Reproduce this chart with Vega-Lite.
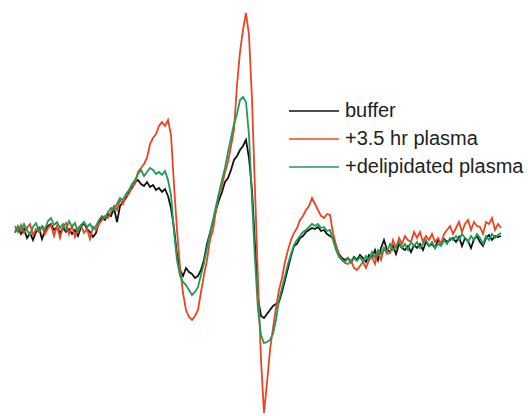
{
"$schema":"https://vega.github.io/schema/vega-lite/v6.json",
"width":528,"height":416,"autosize":{"type":"none"},"padding":0,
"background":"white",
"config":{"view":{"stroke":null}},
"data":{"values":[
{"s":"buffer","x":15,"y":-2},{"s":"buffer","x":18,"y":3},{"s":"buffer","x":21,"y":-4},{"s":"buffer","x":24,"y":1},{"s":"buffer","x":27,"y":-8},{"s":"buffer","x":30,"y":-3},{"s":"buffer","x":33,"y":-10},{"s":"buffer","x":36,"y":-2},{"s":"buffer","x":39,"y":2},{"s":"buffer","x":42,"y":-9},{"s":"buffer","x":45,"y":-1},{"s":"buffer","x":48,"y":4},{"s":"buffer","x":51,"y":6},{"s":"buffer","x":54,"y":0},{"s":"buffer","x":57,"y":3},{"s":"buffer","x":60,"y":-3},{"s":"buffer","x":63,"y":2},{"s":"buffer","x":66,"y":-2},{"s":"buffer","x":69,"y":1},{"s":"buffer","x":72,"y":-4},{"s":"buffer","x":75,"y":0},{"s":"buffer","x":78,"y":-6},{"s":"buffer","x":81,"y":3},{"s":"buffer","x":84,"y":7},{"s":"buffer","x":87,"y":1},{"s":"buffer","x":90,"y":-2},{"s":"buffer","x":93,"y":-7},{"s":"buffer","x":96,"y":-3},{"s":"buffer","x":99,"y":8},{"s":"buffer","x":102,"y":12},{"s":"buffer","x":105,"y":10},{"s":"buffer","x":108,"y":16},{"s":"buffer","x":111,"y":14},{"s":"buffer","x":114,"y":22},{"s":"buffer","x":117,"y":8},{"s":"buffer","x":120,"y":24},{"s":"buffer","x":123,"y":28},{"s":"buffer","x":126,"y":32},{"s":"buffer","x":129,"y":38},{"s":"buffer","x":132,"y":42},{"s":"buffer","x":135,"y":48},{"s":"buffer","x":138,"y":50},{"s":"buffer","x":141,"y":46},{"s":"buffer","x":144,"y":44},{"s":"buffer","x":147,"y":48},{"s":"buffer","x":150,"y":43},{"s":"buffer","x":153,"y":45},{"s":"buffer","x":156,"y":40},{"s":"buffer","x":159,"y":42},{"s":"buffer","x":162,"y":38},{"s":"buffer","x":165,"y":41},{"s":"buffer","x":168,"y":34},{"s":"buffer","x":171,"y":22},{"s":"buffer","x":174,"y":2},{"s":"buffer","x":177,"y":-25},{"s":"buffer","x":180,"y":-40},{"s":"buffer","x":183,"y":-46},{"s":"buffer","x":186,"y":-38},{"s":"buffer","x":189,"y":-42},{"s":"buffer","x":192,"y":-44},{"s":"buffer","x":195,"y":-48},{"s":"buffer","x":198,"y":-46},{"s":"buffer","x":201,"y":-40},{"s":"buffer","x":204,"y":-30},{"s":"buffer","x":207,"y":-14},{"s":"buffer","x":210,"y":-3},{"s":"buffer","x":213,"y":8},{"s":"buffer","x":216,"y":20},{"s":"buffer","x":219,"y":30},{"s":"buffer","x":222,"y":38},{"s":"buffer","x":225,"y":48},{"s":"buffer","x":228,"y":52},{"s":"buffer","x":231,"y":60},{"s":"buffer","x":234,"y":70},{"s":"buffer","x":237,"y":74},{"s":"buffer","x":240,"y":80},{"s":"buffer","x":243,"y":84},{"s":"buffer","x":246,"y":90},{"s":"buffer","x":249,"y":72},{"s":"buffer","x":252,"y":40},{"s":"buffer","x":255,"y":-15},{"s":"buffer","x":258,"y":-68},{"s":"buffer","x":261,"y":-86},{"s":"buffer","x":264,"y":-88},{"s":"buffer","x":267,"y":-84},{"s":"buffer","x":270,"y":-80},{"s":"buffer","x":273,"y":-76},{"s":"buffer","x":276,"y":-74},{"s":"buffer","x":279,"y":-72},{"s":"buffer","x":282,"y":-62},{"s":"buffer","x":285,"y":-50},{"s":"buffer","x":288,"y":-38},{"s":"buffer","x":291,"y":-26},{"s":"buffer","x":294,"y":-16},{"s":"buffer","x":297,"y":-14},{"s":"buffer","x":300,"y":-8},{"s":"buffer","x":303,"y":-6},{"s":"buffer","x":306,"y":-2},{"s":"buffer","x":309,"y":0},{"s":"buffer","x":312,"y":2},{"s":"buffer","x":315,"y":1},{"s":"buffer","x":318,"y":3},{"s":"buffer","x":321,"y":-1},{"s":"buffer","x":324,"y":0},{"s":"buffer","x":327,"y":-4},{"s":"buffer","x":330,"y":-6},{"s":"buffer","x":333,"y":-8},{"s":"buffer","x":336,"y":-16},{"s":"buffer","x":339,"y":-24},{"s":"buffer","x":342,"y":-28},{"s":"buffer","x":345,"y":-30},{"s":"buffer","x":348,"y":-28},{"s":"buffer","x":351,"y":-32},{"s":"buffer","x":354,"y":-27},{"s":"buffer","x":357,"y":-30},{"s":"buffer","x":360,"y":-25},{"s":"buffer","x":363,"y":-28},{"s":"buffer","x":366,"y":-32},{"s":"buffer","x":369,"y":-25},{"s":"buffer","x":372,"y":-28},{"s":"buffer","x":375,"y":-20},{"s":"buffer","x":378,"y":-30},{"s":"buffer","x":381,"y":-18},{"s":"buffer","x":384,"y":-10},{"s":"buffer","x":387,"y":-20},{"s":"buffer","x":390,"y":-22},{"s":"buffer","x":393,"y":-16},{"s":"buffer","x":396,"y":-24},{"s":"buffer","x":399,"y":-14},{"s":"buffer","x":402,"y":-18},{"s":"buffer","x":405,"y":-20},{"s":"buffer","x":408,"y":-16},{"s":"buffer","x":411,"y":-22},{"s":"buffer","x":414,"y":-15},{"s":"buffer","x":417,"y":-18},{"s":"buffer","x":420,"y":-14},{"s":"buffer","x":423,"y":-20},{"s":"buffer","x":426,"y":-12},{"s":"buffer","x":429,"y":-16},{"s":"buffer","x":432,"y":-14},{"s":"buffer","x":435,"y":-18},{"s":"buffer","x":438,"y":-10},{"s":"buffer","x":441,"y":-14},{"s":"buffer","x":444,"y":-9},{"s":"buffer","x":447,"y":-12},{"s":"buffer","x":450,"y":-10},{"s":"buffer","x":453,"y":-8},{"s":"buffer","x":456,"y":-12},{"s":"buffer","x":459,"y":-7},{"s":"buffer","x":462,"y":-16},{"s":"buffer","x":465,"y":-8},{"s":"buffer","x":468,"y":-11},{"s":"buffer","x":471,"y":-18},{"s":"buffer","x":474,"y":-9},{"s":"buffer","x":477,"y":-6},{"s":"buffer","x":480,"y":-12},{"s":"buffer","x":483,"y":-16},{"s":"buffer","x":486,"y":-8},{"s":"buffer","x":489,"y":-5},{"s":"buffer","x":492,"y":-10},{"s":"buffer","x":495,"y":-6},{"s":"buffer","x":498,"y":-7},{"s":"buffer","x":501,"y":-6},
{"s":"+3.5 hr plasma","x":15,"y":4},{"s":"+3.5 hr plasma","x":18,"y":-2},{"s":"+3.5 hr plasma","x":21,"y":5},{"s":"+3.5 hr plasma","x":24,"y":-3},{"s":"+3.5 hr plasma","x":27,"y":2},{"s":"+3.5 hr plasma","x":30,"y":6},{"s":"+3.5 hr plasma","x":33,"y":-5},{"s":"+3.5 hr plasma","x":36,"y":1},{"s":"+3.5 hr plasma","x":39,"y":-2},{"s":"+3.5 hr plasma","x":42,"y":3},{"s":"+3.5 hr plasma","x":45,"y":-4},{"s":"+3.5 hr plasma","x":48,"y":2},{"s":"+3.5 hr plasma","x":51,"y":5},{"s":"+3.5 hr plasma","x":54,"y":-6},{"s":"+3.5 hr plasma","x":57,"y":4},{"s":"+3.5 hr plasma","x":60,"y":-8},{"s":"+3.5 hr plasma","x":63,"y":3},{"s":"+3.5 hr plasma","x":66,"y":7},{"s":"+3.5 hr plasma","x":69,"y":-4},{"s":"+3.5 hr plasma","x":72,"y":4},{"s":"+3.5 hr plasma","x":75,"y":-7},{"s":"+3.5 hr plasma","x":78,"y":2},{"s":"+3.5 hr plasma","x":81,"y":5},{"s":"+3.5 hr plasma","x":84,"y":-3},{"s":"+3.5 hr plasma","x":87,"y":1},{"s":"+3.5 hr plasma","x":90,"y":-9},{"s":"+3.5 hr plasma","x":93,"y":3},{"s":"+3.5 hr plasma","x":96,"y":0},{"s":"+3.5 hr plasma","x":99,"y":6},{"s":"+3.5 hr plasma","x":102,"y":10},{"s":"+3.5 hr plasma","x":105,"y":14},{"s":"+3.5 hr plasma","x":108,"y":12},{"s":"+3.5 hr plasma","x":111,"y":18},{"s":"+3.5 hr plasma","x":114,"y":24},{"s":"+3.5 hr plasma","x":117,"y":20},{"s":"+3.5 hr plasma","x":120,"y":30},{"s":"+3.5 hr plasma","x":123,"y":26},{"s":"+3.5 hr plasma","x":126,"y":34},{"s":"+3.5 hr plasma","x":129,"y":36},{"s":"+3.5 hr plasma","x":132,"y":44},{"s":"+3.5 hr plasma","x":135,"y":46},{"s":"+3.5 hr plasma","x":138,"y":58},{"s":"+3.5 hr plasma","x":141,"y":62},{"s":"+3.5 hr plasma","x":144,"y":66},{"s":"+3.5 hr plasma","x":147,"y":72},{"s":"+3.5 hr plasma","x":150,"y":86},{"s":"+3.5 hr plasma","x":153,"y":92},{"s":"+3.5 hr plasma","x":156,"y":96},{"s":"+3.5 hr plasma","x":159,"y":104},{"s":"+3.5 hr plasma","x":162,"y":108},{"s":"+3.5 hr plasma","x":165,"y":104},{"s":"+3.5 hr plasma","x":168,"y":110},{"s":"+3.5 hr plasma","x":171,"y":95},{"s":"+3.5 hr plasma","x":174,"y":45},{"s":"+3.5 hr plasma","x":177,"y":0},{"s":"+3.5 hr plasma","x":180,"y":-37},{"s":"+3.5 hr plasma","x":183,"y":-63},{"s":"+3.5 hr plasma","x":186,"y":-80},{"s":"+3.5 hr plasma","x":189,"y":-87},{"s":"+3.5 hr plasma","x":192,"y":-90},{"s":"+3.5 hr plasma","x":195,"y":-86},{"s":"+3.5 hr plasma","x":198,"y":-80},{"s":"+3.5 hr plasma","x":201,"y":-62},{"s":"+3.5 hr plasma","x":204,"y":-45},{"s":"+3.5 hr plasma","x":207,"y":-30},{"s":"+3.5 hr plasma","x":210,"y":-10},{"s":"+3.5 hr plasma","x":213,"y":0},{"s":"+3.5 hr plasma","x":216,"y":20},{"s":"+3.5 hr plasma","x":219,"y":36},{"s":"+3.5 hr plasma","x":222,"y":44},{"s":"+3.5 hr plasma","x":225,"y":58},{"s":"+3.5 hr plasma","x":228,"y":68},{"s":"+3.5 hr plasma","x":231,"y":84},{"s":"+3.5 hr plasma","x":234,"y":100},{"s":"+3.5 hr plasma","x":237,"y":145},{"s":"+3.5 hr plasma","x":240,"y":178},{"s":"+3.5 hr plasma","x":243,"y":200},{"s":"+3.5 hr plasma","x":246,"y":217},{"s":"+3.5 hr plasma","x":249,"y":195},{"s":"+3.5 hr plasma","x":252,"y":130},{"s":"+3.5 hr plasma","x":255,"y":40},{"s":"+3.5 hr plasma","x":258,"y":-50},{"s":"+3.5 hr plasma","x":261,"y":-130},{"s":"+3.5 hr plasma","x":264,"y":-183},{"s":"+3.5 hr plasma","x":267,"y":-153},{"s":"+3.5 hr plasma","x":270,"y":-120},{"s":"+3.5 hr plasma","x":273,"y":-98},{"s":"+3.5 hr plasma","x":276,"y":-78},{"s":"+3.5 hr plasma","x":279,"y":-60},{"s":"+3.5 hr plasma","x":282,"y":-48},{"s":"+3.5 hr plasma","x":285,"y":-32},{"s":"+3.5 hr plasma","x":288,"y":-20},{"s":"+3.5 hr plasma","x":291,"y":-10},{"s":"+3.5 hr plasma","x":294,"y":-3},{"s":"+3.5 hr plasma","x":297,"y":2},{"s":"+3.5 hr plasma","x":300,"y":10},{"s":"+3.5 hr plasma","x":303,"y":14},{"s":"+3.5 hr plasma","x":306,"y":20},{"s":"+3.5 hr plasma","x":309,"y":24},{"s":"+3.5 hr plasma","x":312,"y":32},{"s":"+3.5 hr plasma","x":315,"y":26},{"s":"+3.5 hr plasma","x":318,"y":20},{"s":"+3.5 hr plasma","x":321,"y":14},{"s":"+3.5 hr plasma","x":324,"y":12},{"s":"+3.5 hr plasma","x":327,"y":16},{"s":"+3.5 hr plasma","x":330,"y":15},{"s":"+3.5 hr plasma","x":333,"y":-3},{"s":"+3.5 hr plasma","x":336,"y":-15},{"s":"+3.5 hr plasma","x":339,"y":-25},{"s":"+3.5 hr plasma","x":342,"y":-30},{"s":"+3.5 hr plasma","x":345,"y":-33},{"s":"+3.5 hr plasma","x":348,"y":-34},{"s":"+3.5 hr plasma","x":351,"y":-30},{"s":"+3.5 hr plasma","x":354,"y":-38},{"s":"+3.5 hr plasma","x":357,"y":-40},{"s":"+3.5 hr plasma","x":360,"y":-36},{"s":"+3.5 hr plasma","x":363,"y":-32},{"s":"+3.5 hr plasma","x":366,"y":-38},{"s":"+3.5 hr plasma","x":369,"y":-30},{"s":"+3.5 hr plasma","x":372,"y":-27},{"s":"+3.5 hr plasma","x":375,"y":-34},{"s":"+3.5 hr plasma","x":378,"y":-22},{"s":"+3.5 hr plasma","x":381,"y":-30},{"s":"+3.5 hr plasma","x":384,"y":-18},{"s":"+3.5 hr plasma","x":387,"y":-24},{"s":"+3.5 hr plasma","x":390,"y":-23},{"s":"+3.5 hr plasma","x":393,"y":-10},{"s":"+3.5 hr plasma","x":396,"y":-18},{"s":"+3.5 hr plasma","x":399,"y":-8},{"s":"+3.5 hr plasma","x":402,"y":-14},{"s":"+3.5 hr plasma","x":405,"y":-6},{"s":"+3.5 hr plasma","x":408,"y":-10},{"s":"+3.5 hr plasma","x":411,"y":-12},{"s":"+3.5 hr plasma","x":414,"y":-2},{"s":"+3.5 hr plasma","x":417,"y":-8},{"s":"+3.5 hr plasma","x":420,"y":-2},{"s":"+3.5 hr plasma","x":423,"y":-12},{"s":"+3.5 hr plasma","x":426,"y":-6},{"s":"+3.5 hr plasma","x":429,"y":-10},{"s":"+3.5 hr plasma","x":432,"y":-4},{"s":"+3.5 hr plasma","x":435,"y":-12},{"s":"+3.5 hr plasma","x":438,"y":-8},{"s":"+3.5 hr plasma","x":441,"y":-14},{"s":"+3.5 hr plasma","x":444,"y":-4},{"s":"+3.5 hr plasma","x":447,"y":0},{"s":"+3.5 hr plasma","x":450,"y":4},{"s":"+3.5 hr plasma","x":453,"y":-4},{"s":"+3.5 hr plasma","x":456,"y":2},{"s":"+3.5 hr plasma","x":459,"y":8},{"s":"+3.5 hr plasma","x":462,"y":-2},{"s":"+3.5 hr plasma","x":465,"y":6},{"s":"+3.5 hr plasma","x":468,"y":10},{"s":"+3.5 hr plasma","x":471,"y":0},{"s":"+3.5 hr plasma","x":474,"y":8},{"s":"+3.5 hr plasma","x":477,"y":4},{"s":"+3.5 hr plasma","x":480,"y":3},{"s":"+3.5 hr plasma","x":483,"y":-4},{"s":"+3.5 hr plasma","x":486,"y":8},{"s":"+3.5 hr plasma","x":489,"y":6},{"s":"+3.5 hr plasma","x":492,"y":12},{"s":"+3.5 hr plasma","x":495,"y":0},{"s":"+3.5 hr plasma","x":498,"y":6},{"s":"+3.5 hr plasma","x":501,"y":2},
{"s":"+delipidated plasma","x":15,"y":-3},{"s":"+delipidated plasma","x":18,"y":4},{"s":"+delipidated plasma","x":21,"y":-1},{"s":"+delipidated plasma","x":24,"y":6},{"s":"+delipidated plasma","x":27,"y":0},{"s":"+delipidated plasma","x":30,"y":-5},{"s":"+delipidated plasma","x":33,"y":3},{"s":"+delipidated plasma","x":36,"y":7},{"s":"+delipidated plasma","x":39,"y":-1},{"s":"+delipidated plasma","x":42,"y":4},{"s":"+delipidated plasma","x":45,"y":1},{"s":"+delipidated plasma","x":48,"y":9},{"s":"+delipidated plasma","x":51,"y":12},{"s":"+delipidated plasma","x":54,"y":5},{"s":"+delipidated plasma","x":57,"y":8},{"s":"+delipidated plasma","x":60,"y":2},{"s":"+delipidated plasma","x":63,"y":6},{"s":"+delipidated plasma","x":66,"y":0},{"s":"+delipidated plasma","x":69,"y":9},{"s":"+delipidated plasma","x":72,"y":3},{"s":"+delipidated plasma","x":75,"y":7},{"s":"+delipidated plasma","x":78,"y":-2},{"s":"+delipidated plasma","x":81,"y":5},{"s":"+delipidated plasma","x":84,"y":8},{"s":"+delipidated plasma","x":87,"y":3},{"s":"+delipidated plasma","x":90,"y":6},{"s":"+delipidated plasma","x":93,"y":1},{"s":"+delipidated plasma","x":96,"y":4},{"s":"+delipidated plasma","x":99,"y":10},{"s":"+delipidated plasma","x":102,"y":14},{"s":"+delipidated plasma","x":105,"y":12},{"s":"+delipidated plasma","x":108,"y":18},{"s":"+delipidated plasma","x":111,"y":22},{"s":"+delipidated plasma","x":114,"y":20},{"s":"+delipidated plasma","x":117,"y":26},{"s":"+delipidated plasma","x":120,"y":32},{"s":"+delipidated plasma","x":123,"y":30},{"s":"+delipidated plasma","x":126,"y":36},{"s":"+delipidated plasma","x":129,"y":40},{"s":"+delipidated plasma","x":132,"y":46},{"s":"+delipidated plasma","x":135,"y":50},{"s":"+delipidated plasma","x":138,"y":56},{"s":"+delipidated plasma","x":141,"y":60},{"s":"+delipidated plasma","x":144,"y":54},{"s":"+delipidated plasma","x":147,"y":58},{"s":"+delipidated plasma","x":150,"y":62},{"s":"+delipidated plasma","x":153,"y":60},{"s":"+delipidated plasma","x":156,"y":56},{"s":"+delipidated plasma","x":159,"y":58},{"s":"+delipidated plasma","x":162,"y":55},{"s":"+delipidated plasma","x":165,"y":59},{"s":"+delipidated plasma","x":168,"y":50},{"s":"+delipidated plasma","x":171,"y":35},{"s":"+delipidated plasma","x":174,"y":-2},{"s":"+delipidated plasma","x":177,"y":-30},{"s":"+delipidated plasma","x":180,"y":-46},{"s":"+delipidated plasma","x":183,"y":-52},{"s":"+delipidated plasma","x":186,"y":-55},{"s":"+delipidated plasma","x":189,"y":-60},{"s":"+delipidated plasma","x":192,"y":-65},{"s":"+delipidated plasma","x":195,"y":-62},{"s":"+delipidated plasma","x":198,"y":-57},{"s":"+delipidated plasma","x":201,"y":-45},{"s":"+delipidated plasma","x":204,"y":-33},{"s":"+delipidated plasma","x":207,"y":-18},{"s":"+delipidated plasma","x":210,"y":-3},{"s":"+delipidated plasma","x":213,"y":10},{"s":"+delipidated plasma","x":216,"y":24},{"s":"+delipidated plasma","x":219,"y":37},{"s":"+delipidated plasma","x":222,"y":50},{"s":"+delipidated plasma","x":225,"y":62},{"s":"+delipidated plasma","x":228,"y":78},{"s":"+delipidated plasma","x":231,"y":92},{"s":"+delipidated plasma","x":234,"y":106},{"s":"+delipidated plasma","x":237,"y":116},{"s":"+delipidated plasma","x":240,"y":130},{"s":"+delipidated plasma","x":243,"y":133},{"s":"+delipidated plasma","x":246,"y":128},{"s":"+delipidated plasma","x":249,"y":95},{"s":"+delipidated plasma","x":252,"y":30},{"s":"+delipidated plasma","x":255,"y":-30},{"s":"+delipidated plasma","x":258,"y":-80},{"s":"+delipidated plasma","x":261,"y":-105},{"s":"+delipidated plasma","x":264,"y":-113},{"s":"+delipidated plasma","x":267,"y":-112},{"s":"+delipidated plasma","x":270,"y":-110},{"s":"+delipidated plasma","x":273,"y":-104},{"s":"+delipidated plasma","x":276,"y":-90},{"s":"+delipidated plasma","x":279,"y":-70},{"s":"+delipidated plasma","x":282,"y":-58},{"s":"+delipidated plasma","x":285,"y":-46},{"s":"+delipidated plasma","x":288,"y":-34},{"s":"+delipidated plasma","x":291,"y":-24},{"s":"+delipidated plasma","x":294,"y":-15},{"s":"+delipidated plasma","x":297,"y":-10},{"s":"+delipidated plasma","x":300,"y":-6},{"s":"+delipidated plasma","x":303,"y":-2},{"s":"+delipidated plasma","x":306,"y":0},{"s":"+delipidated plasma","x":309,"y":3},{"s":"+delipidated plasma","x":312,"y":6},{"s":"+delipidated plasma","x":315,"y":4},{"s":"+delipidated plasma","x":318,"y":6},{"s":"+delipidated plasma","x":321,"y":2},{"s":"+delipidated plasma","x":324,"y":3},{"s":"+delipidated plasma","x":327,"y":-1},{"s":"+delipidated plasma","x":330,"y":0},{"s":"+delipidated plasma","x":333,"y":-10},{"s":"+delipidated plasma","x":336,"y":-20},{"s":"+delipidated plasma","x":339,"y":-27},{"s":"+delipidated plasma","x":342,"y":-30},{"s":"+delipidated plasma","x":345,"y":-32},{"s":"+delipidated plasma","x":348,"y":-28},{"s":"+delipidated plasma","x":351,"y":-33},{"s":"+delipidated plasma","x":354,"y":-28},{"s":"+delipidated plasma","x":357,"y":-31},{"s":"+delipidated plasma","x":360,"y":-27},{"s":"+delipidated plasma","x":363,"y":-32},{"s":"+delipidated plasma","x":366,"y":-26},{"s":"+delipidated plasma","x":369,"y":-30},{"s":"+delipidated plasma","x":372,"y":-22},{"s":"+delipidated plasma","x":375,"y":-28},{"s":"+delipidated plasma","x":378,"y":-20},{"s":"+delipidated plasma","x":381,"y":-24},{"s":"+delipidated plasma","x":384,"y":-18},{"s":"+delipidated plasma","x":387,"y":-22},{"s":"+delipidated plasma","x":390,"y":-14},{"s":"+delipidated plasma","x":393,"y":-20},{"s":"+delipidated plasma","x":396,"y":-16},{"s":"+delipidated plasma","x":399,"y":-12},{"s":"+delipidated plasma","x":402,"y":-18},{"s":"+delipidated plasma","x":405,"y":-14},{"s":"+delipidated plasma","x":408,"y":-20},{"s":"+delipidated plasma","x":411,"y":-12},{"s":"+delipidated plasma","x":414,"y":-16},{"s":"+delipidated plasma","x":417,"y":-12},{"s":"+delipidated plasma","x":420,"y":-18},{"s":"+delipidated plasma","x":423,"y":-14},{"s":"+delipidated plasma","x":426,"y":-10},{"s":"+delipidated plasma","x":429,"y":-16},{"s":"+delipidated plasma","x":432,"y":-12},{"s":"+delipidated plasma","x":435,"y":-18},{"s":"+delipidated plasma","x":438,"y":-14},{"s":"+delipidated plasma","x":441,"y":-16},{"s":"+delipidated plasma","x":444,"y":-10},{"s":"+delipidated plasma","x":447,"y":-14},{"s":"+delipidated plasma","x":450,"y":-8},{"s":"+delipidated plasma","x":453,"y":-10},{"s":"+delipidated plasma","x":456,"y":-6},{"s":"+delipidated plasma","x":459,"y":-10},{"s":"+delipidated plasma","x":462,"y":-4},{"s":"+delipidated plasma","x":465,"y":-8},{"s":"+delipidated plasma","x":468,"y":-12},{"s":"+delipidated plasma","x":471,"y":-6},{"s":"+delipidated plasma","x":474,"y":-10},{"s":"+delipidated plasma","x":477,"y":-4},{"s":"+delipidated plasma","x":480,"y":-8},{"s":"+delipidated plasma","x":483,"y":-14},{"s":"+delipidated plasma","x":486,"y":-6},{"s":"+delipidated plasma","x":489,"y":-10},{"s":"+delipidated plasma","x":492,"y":-4},{"s":"+delipidated plasma","x":495,"y":-8},{"s":"+delipidated plasma","x":498,"y":-5},{"s":"+delipidated plasma","x":501,"y":-3}
]},
"mark":{"type":"line","strokeWidth":1.8,"interpolate":"linear"},
"encoding":{
"x":{"field":"x","type":"quantitative","scale":{"domain":[0,528],"nice":false,"zero":false},"axis":null},
"y":{"field":"y","type":"quantitative","scale":{"domain":[-186,230],"nice":false,"zero":false},"axis":null},
"color":{"field":"s","type":"nominal","scale":{"domain":["buffer","+3.5 hr plasma","+delipidated plasma"],"range":["#111111","#ec4420","#1d9b58"]},
"legend":{"orient":"none","legendX":304,"legendY":101,"title":null,"padding":0,"symbolType":"M-5,0H5","symbolSize":100,"symbolStrokeWidth":1.7,"labelOffset":21,"labelFontSize":20,"labelFont":"Liberation Sans","labelColor":"#222222","labelLimit":0,"rowPadding":8,"labelExpr":"datum.value === 'buffer' ? '\u00a0\u00a0buffer' : datum.label"}},
"order":{"field":"x","type":"quantitative"}
}
}
